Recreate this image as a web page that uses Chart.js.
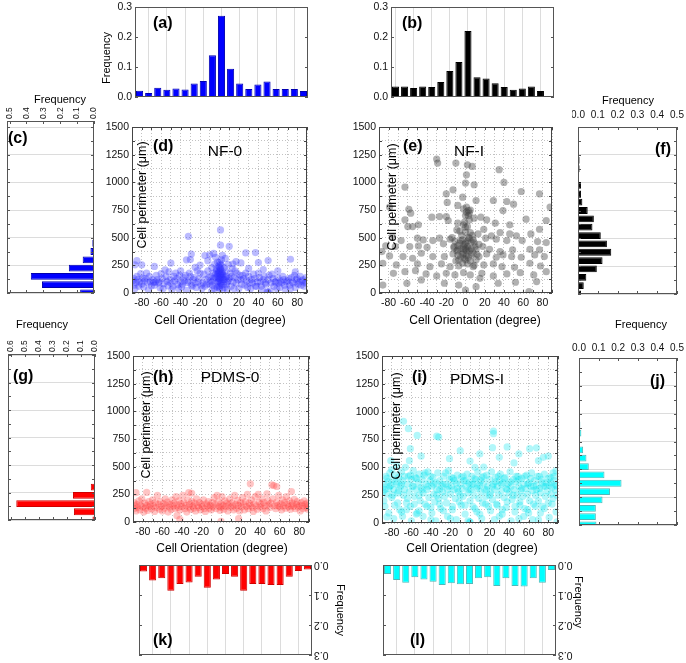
<!DOCTYPE html>
<html><head><meta charset="utf-8">
<script src="https://cdn.jsdelivr.net/npm/chart.js@4.4.1/dist/chart.umd.min.js"></script>
<style>
html,body{margin:0;padding:0;background:#fff;}
body{width:686px;height:663px;position:relative;overflow:hidden;}
canvas{position:absolute;}
</style></head><body>
<script>
// ---------------- DATA ----------------
const ORIENT_BINS = [-90,-80,-70,-60,-50,-40,-30,-20,-10,0,10,20,30,40,50,60,70,80,90];
const B_BINS = [-80,-70,-60,-50,-40,-30,-20,-10,0,10,20,30,40,50,60,70,80,90];
const ORIENT_TICKS = [-80,-60,-40,-20,0,20,40,60,80];
const ORIENT_GRID = [-90,-80,-70,-60,-50,-40,-30,-20,-10,0,10,20,30,40,50,60,70,80,90];
const PERIM_BINS = [0,75,150,225,300,375,450,525,600,675,750,825,900,975,1050,1125,1200,1275,1350,1425,1500];
const PERIM_TICKS = [0,250,500,750,1000,1250,1500];
const PERIM_GRID = [0,125,250,375,500,625,750,875,1000,1125,1250,1375,1500];
const FREQ_TICKS_03 = [0,0.1,0.2,0.3];
const FREQ_TICKS_05 = [0,0.1,0.2,0.3,0.4,0.5];
const FREQ_TICKS_06 = [0,0.1,0.2,0.3,0.4,0.5,0.6];

// orientation histograms
const A_FREQ = [0.021,0.013,0.031,0.024,0.028,0.025,0.045,0.053,0.139,0.271,0.094,0.045,0.027,0.042,0.052,0.027,0.027,0.027,0.020];
const B_FREQ = [0.035,0.035,0.030,0.035,0.033,0.050,0.087,0.117,0.220,0.066,0.062,0.046,0.033,0.024,0.028,0.035,0.020,0];
const K_FREQ = [0.022,0.052,0.044,0.086,0.063,0.058,0.039,0.076,0.048,0.030,0.039,0.086,0.063,0.063,0.067,0.067,0.039,0.020,0.015];
const L_FREQ = [0.030,0.050,0.059,0.041,0.048,0.056,0.067,0.061,0.064,0.063,0.044,0.041,0.070,0.044,0.070,0.072,0.044,0.059,0.017];
// perimeter histograms
const C_FREQ = [0.082,0.308,0.374,0.149,0.067,0.021,0.010,0,0,0,0,0,0,0,0,0,0,0,0,0,0];
const F_FREQ = [0.015,0.029,0.042,0.095,0.124,0.168,0.146,0.115,0.073,0.080,0.049,0.022,0.015,0.015,0.003,0.008,0.008,0,0,0,0];
const G_FREQ = [0.018,0.150,0.561,0.157,0.030,0.005,0,0,0,0,0,0,0,0,0,0,0,0,0,0,0];
const J_FREQ = [0.089,0.086,0.086,0.120,0.158,0.217,0.130,0.050,0.038,0.021,0.003,0.012,0.007,0,0,0,0,0,0,0,0];

// scatter: [orientation, perimeter]
const NF0_PTS = [[1,570],[-32,512],[1,432],[10,422],[37,365],[27,362],[-6,358],[-15,338],[-10,345],[-29,352],[-30,302],[-34,300],[3,340],[-4,322],[6,312],[-50,270],[-85,292],[-87,255],[-80,255],[-67,240],[-56,210],[73,305],[50,293],[17,284],[14,262],[40,275],[22,272],[-12,292],[-20,252],[-25,232],[30,222],[45,212],[-40,200],[60,200],[78,190],
[-89,110],[-88,70],[-88,130],[-87,40],[-86,95],[-85,150],[-84,120],[-83,60],[-82,100],[-81,175],[-80,80],[-79,135],[-78,55],[-77,110],[-76,130],[-75,180],[-74,95],[-73,30],[-72,150],[-71,100],[-70,65],[-69,120],[-68,95],[-67,70],[-66,100],[-65,160],[-64,120],[-63,90],[-62,100],[-61,45],[-60,175],[-59,130],[-58,40],[-57,85],[-55,150],[-54,105],[-53,65],[-52,190],[-51,120],[-50,90],[-49,30],[-48,60],[-47,150],[-46,110],[-45,180],[-44,130],[-43,75],[-42,40],[-41,160],[-40,100],[-39,55],[-38,80],[-37,140],[-36,110],[-35,160],[-34,25],[-33,95],[-32,110],[-31,180],[-30,150],[-29,70],[-28,60],[-27,120],[-26,140],[-25,90],[-24,50],[-23,200],[-22,100],[-21,130],[-20,180],[-19,70],[-18,40],[-17,90],[-16,170],[-15,60],[-14,120],[-13,80],[-12,200],[-11,140],[-10,80],[-9,150],[-9,100],[-8,230],[-8,20],[-7,110],[-7,70],[-6,180],[-6,130],[-5,260],[-5,40],[-4,140],[-4,170],[-3,60],[-3,200],[-3,220],[-2,100],[-2,170],[-2,150],[-2,50],[-2,280],[-1,240],[-1,130],[-1,110],[-1,180],[-1,200],[0,190],[0,150],[0,280],[0,60],[0,130],[0,40],[0,100],[0,230],[1,120],[1,220],[1,170],[1,90],[1,160],[1,210],[1,260],[2,100],[2,300],[2,250],[2,180],[2,140],[2,70],[3,140],[3,190],[3,170],[3,30],[4,80],[4,160],[4,120],[5,230],[5,120],[5,50],[6,200],[6,140],[7,150],[7,80],[8,100],[8,30],[9,260],[9,110],[10,130],[11,180],[12,60],[12,150],[13,220],[14,100],[15,140],[15,40],[16,200],[17,90],[18,180],[19,120],[20,40],[21,160],[22,120],[23,80],[24,160],[25,130],[26,70],[27,180],[28,110],[29,50],[30,150],[31,90],[32,40],[33,120],[34,90],[35,170],[36,130],[37,60],[38,60],[39,100],[40,180],[41,140],[42,100],[43,60],[44,30],[45,120],[46,150],[47,90],[48,80],[49,10],[50,120],[50,5],[51,160],[52,20],[53,90],[54,170],[55,130],[56,60],[57,100],[58,100],[59,40],[60,140],[61,90],[62,50],[63,110],[64,90],[65,150],[66,120],[67,70],[68,30],[69,100],[70,110],[71,130],[72,70],[73,40],[74,140],[75,100],[76,90],[77,160],[78,50],[79,120],[80,130],[81,80],[82,100],[83,150],[84,70],[85,110],[86,120],[87,60],[88,90],[89,140],[89,100]];

const NFI_PTS = [[-30,1210],[-29,1174],[-10,1174],[7,1144],[2,1159],[35,1114],[1,1068],[0,993],[9,978],[-63,957],[-13,932],[40,999],[58,917],[77,896],[-3,866],[-20,896],[29,836],[11,836],[50,803],[-8,791],[-19,818],[88,776],[1,776],[-59,757],[-57,721],[-79,776],[3,745],[4,721],[43,827],[-20,691],[-27,691],[-35,685],[39,745],[63,667],[9,676],[16,685],[22,661],[31,631],[-63,661],[-49,616],[-18,655],[-8,631],[-2,616],[0,594],[-60,600],[-55,600],[46,616],[84,655],[-9,570],[5,546],[13,534],[19,576],[27,516],[36,546],[77,576],[68,534],[53,516],[46,534],[-50,495],[-44,480],[-34,474],[-27,495],[-76,510],[-67,474],[-16,486],[-5,474],[4,495],[9,456],[21,495],[32,486],[43,474],[59,474],[75,465],[84,456],[-83,425],[-73,420],[-58,420],[-49,425],[-40,413],[-23,444],[-12,420],[-8,389],[-2,395],[3,404],[11,395],[18,420],[25,395],[36,374],[49,389],[67,395],[77,389],[-87,374],[-79,335],[-65,329],[-55,314],[-46,359],[-34,329],[-22,329],[-13,353],[-5,329],[-1,314],[6,344],[14,329],[22,353],[32,323],[39,344],[48,329],[58,323],[72,344],[82,329],[-86,269],[-72,254],[-50,263],[-37,238],[-25,263],[-16,238],[-7,244],[2,263],[8,238],[19,254],[29,263],[38,238],[51,232],[67,269],[78,244],[-75,178],[-63,193],[-52,202],[-41,172],[-30,154],[-20,178],[-11,163],[-2,184],[5,163],[17,178],[29,154],[43,172],[57,184],[71,163],[84,193],[-22,88],[-7,72],[0,27],[11,57],[34,88],[52,97],[66,12],[-86,72],[-61,88],[-46,118],[15,133],[74,103],
[-3,480],[0,450],[2,420],[-5,400],[4,380],[-2,360],[1,340],[-8,430],[6,460],[3,500],[-4,520],[0,550],[2,600],[-1,640],[3,700],[1,730],[5,750],[-2,760],[0,700],[4,660],[-6,560],[7,520],[8,480],[-9,380],[10,420],[-11,470],[12,350],[-7,300],[5,290],[-3,270],[9,250],[-12,410],[14,440],[-14,500],[0,400],[1,380],[-1,440],[2,470],[-2,420],[6,400],[-6,450],[8,360],[-8,340],[3,320],[-3,350],[0,300],[11,300],[-10,290]];

const PDMS0_PTS = [[-89,120],[-89,175],[-88,145],[-87,265],[-87,100],[-86,160],[-85,130],[-84,190],[-83,110],[-82,150],[-81,210],[-80,135],[-79,90],[-78,170],[-77,125],[-76,267],[-76,150],[-75,105],[-74,185],[-73,140],[-72,160],[-71,120],[-70,200],[-69,145],[-68,95],[-67,175],[-66,130],[-65,240],[-64,160],[-63,115],[-62,185],[-61,140],[-60,100],[-59,165],[-58,125],[-57,210],[-56,150],[-55,180],[-54,90],[-53,135],[-52,160],[-51,115],[-50,200],[-49,145],[-48,170],[-47,120],[-46,230],[-45,57],[-45,155],[-44,130],[-43,190],[-42,25],[-42,110],[-41,165],[-40,140],[-39,240],[-38,175],[-37,120],[-36,150],[-35,90],[-34,200],[-33,265],[-33,135],[-32,160],[-31,115],[-30,260],[-30,185],[-29,145],[-28,125],[-27,170],[-26,100],[-25,210],[-24,150],[-23,130],[-22,175],[-21,110],[-20,160],[-19,140],[-18,200],[-17,120],[-16,95],[-15,165],[-14,145],[-13,185],[-12,125],[-11,150],[-10,110],[-9,175],[-8,135],[-7,220],[-6,160],[-5,120],[-4,240],[-3,180],[-2,140],[-1,105],[0,5],[0,165],[0,130],[1,230],[2,150],[3,115],[4,190],[5,140],[6,170],[7,100],[8,155],[9,210],[10,130],[11,175],[12,145],[13,110],[14,240],[15,160],[16,125],[17,195],[18,30],[18,150],[19,100],[20,175],[21,135],[22,220],[23,160],[24,110],[25,185],[26,140],[27,250],[28,120],[29,170],[30,345],[30,150],[31,200],[32,130],[33,95],[34,165],[35,230],[36,145],[37,115],[38,250],[39,180],[40,135],[41,160],[42,210],[43,120],[44,175],[45,145],[46,100],[47,255],[48,190],[49,155],[50,130],[51,170],[52,336],[53,210],[54,330],[55,145],[56,120],[57,321],[57,180],[58,150],[59,240],[60,135],[61,165],[62,110],[63,200],[64,145],[65,175],[66,125],[67,230],[68,160],[69,135],[70,190],[71,115],[72,275],[72,150],[73,170],[74,140],[75,205],[76,120],[77,160],[78,185],[79,135],[80,150],[81,100],[82,175],[83,145],[84,120],[85,190],[86,160],[87,130],[88,170],[89,115],[89,145]];

const PDMSI_PTS = [[-68,913],[-63,847],[-54,787],[-32,772],[-34,780],[24,826],[24,802],[38,683],[61,668],[68,675],[23,677],[-61,668],[-21,578],[0,557],[14,503],[-80,480],[-75,520],[-62,560],[5,500],[30,590],[45,540],[75,590],[80,600],[88,470],[85,450],
[-85,55],[0,10],[0,5],[89,10],[-40,30],[-20,40],[10,80],[30,60],[50,40],[70,30],[-70,100],[-55,80],[60,90],
[-89,320],[-89,280],[-88,350],[-87,300],[-86,420],[-85,260],[-84,370],[-83,310],[-82,450],[-81,340],[-80,230],[-79,390],[-78,300],[-77,160],[-76,430],[-75,350],[-74,270],[-73,410],[-72,120],[-71,330],[-70,460],[-69,380],[-68,250],[-67,300],[-66,500],[-65,180],[-64,350],[-63,420],[-62,280],[-61,150],[-60,390],[-59,330],[-58,470],[-57,240],[-56,410],[-55,300],[-54,90],[-53,360],[-52,440],[-51,200],[-50,320],[-49,390],[-48,270],[-47,430],[-46,170],[-45,350],[-44,300],[-43,460],[-42,230],[-41,380],[-40,140],[-39,330],[-38,410],[-37,260],[-36,190],[-35,360],[-34,300],[-33,450],[-32,220],[-31,380],[-30,130],[-29,330],[-28,280],[-27,420],[-26,240],[-25,350],[-24,180],[-23,300],[-22,470],[-21,390],[-20,260],[-19,330],[-18,150],[-17,400],[-16,300],[-15,220],[-14,360],[-13,430],[-12,280],[-11,190],[-10,350],[-9,410],[-8,310],[-7,240],[-6,380],[-5,160],[-4,330],[-3,440],[-2,270],[-1,360],[0,200],[1,300],[2,420],[3,350],[4,250],[5,130],[6,390],[7,310],[8,460],[9,220],[10,340],[11,280],[12,410],[13,180],[14,360],[15,300],[16,240],[17,430],[18,330],[19,150],[20,390],[21,270],[22,460],[23,210],[24,350],[25,300],[26,410],[27,170],[28,330],[29,250],[30,380],[31,440],[32,290],[33,120],[34,360],[35,230],[36,410],[37,310],[38,190],[39,350],[40,270],[41,460],[42,330],[43,210],[44,390],[45,300],[46,150],[47,370],[48,250],[49,420],[50,330],[51,190],[52,290],[53,400],[54,240],[55,350],[56,130],[57,310],[58,430],[59,260],[60,360],[61,200],[62,330],[63,450],[64,290],[65,170],[66,380],[67,250],[68,340],[69,420],[70,200],[71,310],[72,270],[73,390],[74,150],[75,330],[76,440],[77,240],[78,360],[79,290],[80,180],[81,340],[82,410],[83,260],[84,320],[85,220],[86,380],[87,300],[88,340],[89,250],
[-88,200],[-85,400],[-82,330],[-79,250],[-76,370],[-73,290],[-70,350],[-67,420],[-64,220],[-61,430],[-58,330],[-55,400],[-52,250],[-49,300],[-46,450],[-43,330],[-40,420],[-37,350],[-34,250],[-31,300],[-28,350],[-25,450],[-22,330],[-19,410],[-16,380],[-13,310],[-10,250],[-7,420],[-4,380],[-1,300],[2,350],[5,400],[8,330],[11,380],[14,420],[17,300],[20,250],[23,330],[26,370],[29,420],[32,350],[35,400],[38,300],[41,370],[44,250],[47,420],[50,390],[53,310],[56,420],[59,350],[62,400],[65,330],[68,300],[71,420],[74,360],[77,330],[80,400],[83,360],[86,420],[89,330],
[-87,150],[-83,90],[-78,40],[-74,180],[-69,60],[-65,120],[-60,20],[-57,170],[-52,110],[-48,60],[-44,150],[-39,90],[-35,20],[-31,170],[-27,110],[-23,60],[-18,120],[-14,30],[-9,160],[-5,80],[-2,20],[3,150],[7,100],[12,40],[16,170],[21,110],[25,30],[28,160],[33,80],[37,140],[42,20],[46,100],[51,160],[55,60],[59,120],[64,30],[67,150],[72,90],[76,130],[81,50],[84,170],[88,100],[-81,560],[-50,600],[10,620],[50,620],[-10,650],[70,560]];

// ---------------- HELPERS ----------------
const FONT = "'Liberation Sans', Arial, Helvetica, sans-serif";
const TICKFONT = {family: FONT, size: 10.5};
const f1 = v => v.toFixed(1);

function decoPlugin(spec, ox, oy) {
  return { id: 'deco', afterDraw(chart) {
    const ctx = chart.ctx, a = chart.chartArea;
    ctx.save();
    ctx.strokeStyle = spec.frame || '#444'; ctx.lineWidth = 1;
    (spec.ticks || []).forEach(tk => {
      const sc = chart.scales[tk.axis];
      tk.vals.forEach(v => {
        const p = Math.round(sc.getPixelForValue(v)) + 0.5;
        ctx.beginPath();
        if (sc.isHorizontal()) { ctx.moveTo(p, a.bottom); ctx.lineTo(p, a.bottom - tk.len); ctx.moveTo(p, a.top); ctx.lineTo(p, a.top + tk.len); }
        else { ctx.moveTo(a.left, p); ctx.lineTo(a.left + tk.len, p); ctx.moveTo(a.right, p); ctx.lineTo(a.right - tk.len, p); }
        ctx.stroke();
      });
    });
    ctx.strokeRect(a.left + 0.5, a.top + 0.5, a.right - a.left - 1, a.bottom - a.top - 1);
    (spec.labels || []).forEach(L => {
      const sc = chart.scales[L.axis];
      ctx.font = L.font || ('10.5px ' + FONT); ctx.fillStyle = '#111';
      L.vals.forEach(v => {
        const p = sc.getPixelForValue(v);
        ctx.save();
        if (sc.isHorizontal()) ctx.translate(p, L.side === 'top' ? a.top - L.off : a.bottom + L.off);
        else ctx.translate(L.side === 'left' ? a.left - L.off : a.right + L.off, p);
        ctx.rotate(L.rot); ctx.textAlign = L.align; ctx.textBaseline = 'middle';
        ctx.fillText(L.fmt(v), 0, 0);
        ctx.restore();
      });
    });
    (spec.texts || []).forEach(T => {
      ctx.save(); ctx.translate(T.x - ox, T.y - oy); if (T.r) ctx.rotate(T.r);
      ctx.font = T.f; ctx.fillStyle = T.c || '#000'; ctx.textAlign = T.a || 'center'; ctx.textBaseline = 'middle';
      ctx.fillText(T.t, 0, 0); ctx.restore();
    });
    ctx.restore();
  }};
}

// box: plot area [l,t,r,b] in page px; m: [left, top, right, bottom] margins
function makeChart(box, m, cfg, spec) {
  const c = document.createElement('canvas');
  const W = box[2] - box[0] + m[0] + m[2], H = box[3] - box[1] + m[1] + m[3];
  const ox = box[0] - m[0], oy = box[1] - m[1];
  c.width = W; c.height = H;
  c.style.left = ox + 'px'; c.style.top = oy + 'px'; c.style.width = W + 'px'; c.style.height = H + 'px';
  document.body.appendChild(c);
  const pad = {left: m[0], top: m[1], right: m[2], bottom: m[3]};
  const scales = cfg.options.scales;
  for (const k in scales) {
    const s = scales[k];
    const pos = s.position || (k === 'x' ? 'bottom' : 'left');
    s.position = pos;
    const size = pad[pos]; pad[pos] = 0;
    s.grid = Object.assign({}, s.grid, {drawTicks: false});
    s.afterFit = sc => {
      if (sc.isHorizontal()) sc.height = size; else sc.width = size;
      sc.paddingLeft = sc.paddingRight = sc.paddingTop = sc.paddingBottom = 0;
    };
  }
  Object.assign(cfg.options, {responsive: false, animation: false, devicePixelRatio: 1, layout: {padding: pad}});
  cfg.options.plugins = {legend: {display: false}, tooltip: {enabled: false}};
  cfg.plugins = [decoPlugin(spec, ox, oy)];
  return new Chart(c, cfg);
}

const TITLE = '12px ' + FONT, YTITLE = '12.5px ' + FONT, PANEL = 'bold 16px ' + FONT, NAME = '15.5px ' + FONT, FREQ = '11px ' + FONT;

// orientation histogram (vertical bars)
function orientBar(box, m, bins, vals, fill, border, opts) {
  const gridCol = ctx => {
    const v = bins[ctx.index];
    return (v % 20 === 0 && Math.abs(v) < 90) ? '#dcdcdc' : 'rgba(0,0,0,0)';
  };
  return makeChart(box, m, {
    type: 'bar',
    data: {labels: bins, datasets: [{data: vals, backgroundColor: fill, borderColor: border, borderWidth: 1, barPercentage: 0.78, categoryPercentage: 1}]},
    options: {scales: {
      x: {type: 'category', offset: true, grid: {offset: false, color: gridCol}, border: {display: false}, ticks: {display: false}},
      y: {type: 'linear', min: 0, max: 0.3, reverse: !!opts.reverse, position: opts.reverse ? 'right' : 'left',
          afterBuildTicks: s => { s.ticks = FREQ_TICKS_03.map(v => ({value: v})); },
          grid: {display: false}, border: {display: false},
          ticks: {display: !opts.reverse, padding: 3, font: TICKFONT, color: '#111', callback: v => f1(v)}}
    }}
  }, {frame: '#555', ticks: [{axis: 'y', vals: FREQ_TICKS_03, len: 3}], texts: opts.texts, labels: opts.customLabels});
}

// perimeter histogram (horizontal bars)
function perimBar(box, m, vals, fill, border, opts) {
  const ticksArr = opts.xticks;
  return makeChart(box, m, {
    type: 'bar',
    data: {labels: PERIM_BINS, datasets: [{data: vals, backgroundColor: fill, borderColor: border, borderWidth: 1, barPercentage: 0.82, categoryPercentage: 1}]},
    options: {indexAxis: 'y', scales: {
      y: {type: 'linear', min: 0, max: opts.ymax, offset: false,
          afterBuildTicks: s => { s.ticks = PERIM_TICKS.map(v => ({value: v})); },
          grid: {color: '#dcdcdc', offset: false}, border: {display: false}, ticks: {display: false}},
      x: {type: 'linear', position: 'top', min: 0, max: opts.xmax, reverse: !!opts.reverse,
          afterBuildTicks: s => { s.ticks = ticksArr.map(v => ({value: v})); },
          grid: {display: false}, border: {display: false},
          ticks: {display: !opts.rotated, padding: opts.pad || 4, autoSkip: false, maxRotation: 0, font: {family: FONT, size: 10}, color: '#111', callback: v => f1(v)}}
    }}
  }, {frame: '#555', ticks: [{axis: 'y', vals: PERIM_GRID, len: 3}, {axis: 'x', vals: ticksArr, len: 3}],
      texts: opts.texts,
      labels: opts.rotated ? [{axis: 'x', vals: ticksArr, side: 'top', off: 2, rot: -Math.PI / 2, align: 'left', fmt: f1, font: '8.5px ' + FONT}] : []});
}

// scatter
function scatter(box, m, pts, color, texts) {
  return makeChart(box, m, {
    type: 'scatter',
    data: {datasets: [{data: pts.map(p => ({x: p[0], y: p[1]})), pointRadius: 3.6, pointBorderWidth: 0, backgroundColor: color, pointBackgroundColor: color}]},
    options: {scales: {
      x: {type: 'linear', min: -90, max: 90,
          afterBuildTicks: s => { s.ticks = ORIENT_GRID.map(v => ({value: v})); },
          grid: {color: '#c2c2c2'}, border: {display: false, dash: [1, 2]},
          ticks: {autoSkip: false, maxRotation: 0, padding: 4, font: TICKFONT, color: '#111', callback: v => (ORIENT_TICKS.includes(v) ? String(v) : '')}},
      y: {type: 'linear', min: 0, max: 1500,
          afterBuildTicks: s => { s.ticks = PERIM_GRID.map(v => ({value: v})); },
          grid: {color: '#c2c2c2'}, border: {display: false, dash: [1, 2]},
          ticks: {autoSkip: false, padding: 3, font: TICKFONT, color: '#111', callback: v => (PERIM_TICKS.includes(v) ? String(v) : '')}}
    }}
  }, {frame: '#444', ticks: [{axis: 'x', vals: ORIENT_GRID, len: 3}, {axis: 'y', vals: PERIM_GRID, len: 3}], texts: texts});
}

const ROT = -Math.PI / 2;
// ---------------- PANELS ----------------
orientBar([135, 7, 308, 97], [42, 7, 5, 8], ORIENT_BINS, A_FREQ, '#0000ff', '#0000b0', {texts: [
  {t: 'Frequency', x: 107, y: 58, f: FREQ, r: ROT},
  {t: '(a)', x: 153, y: 24, f: PANEL, a: 'left'}]});
orientBar([391, 7, 554, 97], [30, 7, 5, 8], B_BINS, B_FREQ, '#000000', '#000000', {texts: [
  {t: '(b)', x: 402, y: 24, f: PANEL, a: 'left'}]});

perimBar([7, 121, 94, 293], [7, 30, 8, 5], C_FREQ, '#0000ff', '#0000b0', {ymax: 1555, xmax: 0.515, reverse: true, rotated: true, xticks: FREQ_TICKS_05, texts: [
  {t: 'Frequency', x: 60, y: 100, f: FREQ},
  {t: '(c)', x: 8, y: 139, f: PANEL, a: 'left'}]});

scatter([132, 127, 307, 293], [40, 8, 8, 40], NF0_PTS, 'rgba(50,50,255,0.33)', [
  {t: '(d)', x: 153, y: 147, f: PANEL, a: 'left'},
  {t: 'NF-0', x: 225, y: 152, f: NAME},
  {t: 'Cell perimeter (\u03bcm)', x: 143, y: 195, f: YTITLE, r: ROT},
  {t: 'Cell Orientation (degree)', x: 220, y: 321, f: TITLE}]);
scatter([379, 127, 552, 293], [40, 8, 8, 40], NFI_PTS, 'rgba(70,70,70,0.42)', [
  {t: '(e)', x: 403, y: 147, f: PANEL, a: 'left'},
  {t: 'NF-I', x: 469, y: 152, f: NAME},
  {t: 'Cell perimeter (\u03bcm)', x: 393, y: 197, f: YTITLE, r: ROT},
  {t: 'Cell Orientation (degree)', x: 475, y: 321, f: TITLE}]);

perimBar([578, 127, 677, 294], [6, 36, 9, 5], F_FREQ, '#000000', '#000000', {ymax: 1500, xmax: 0.5, xticks: FREQ_TICKS_05, pad: 6, texts: [
  {t: 'Frequency', x: 628, y: 101, f: FREQ},
  {t: '(f)', x: 655, y: 150, f: PANEL, a: 'left'}]});

perimBar([8, 354, 95, 520], [8, 40, 8, 5], G_FREQ, '#ff0000', '#d00000', {ymax: 1510, xmax: 0.62, reverse: true, rotated: true, xticks: FREQ_TICKS_06, texts: [
  {t: 'Frequency', x: 42, y: 325, f: FREQ},
  {t: '(g)', x: 13, y: 377, f: PANEL, a: 'left'}]});

scatter([133, 356, 309, 522], [40, 8, 8, 40], PDMS0_PTS, 'rgba(255,70,70,0.32)', [
  {t: '(h)', x: 153, y: 378, f: PANEL, a: 'left'},
  {t: 'PDMS-0', x: 230, y: 378, f: NAME},
  {t: 'Cell perimeter (\u03bcm)', x: 147, y: 425, f: YTITLE, r: ROT},
  {t: 'Cell Orientation (degree)', x: 222, y: 549, f: TITLE}]);
scatter([382, 356, 558, 523], [40, 8, 8, 40], PDMSI_PTS, 'rgba(0,230,240,0.30)', [
  {t: '(i)', x: 412, y: 378, f: PANEL, a: 'left'},
  {t: 'PDMS-I', x: 477, y: 380, f: NAME},
  {t: 'Cell perimeter (\u03bcm)', x: 397, y: 426, f: YTITLE, r: ROT},
  {t: 'Cell Orientation (degree)', x: 472, y: 549, f: TITLE}]);

perimBar([579, 358, 677, 525], [7, 42, 9, 5], J_FREQ, '#00ffff', '#50b8b8', {ymax: 1500, xmax: 0.5, xticks: FREQ_TICKS_05, pad: 4, texts: [
  {t: 'Frequency', x: 641, y: 325, f: FREQ},
  {t: '(j)', x: 650, y: 382, f: PANEL, a: 'left'}]});

const flipLabels = [{axis: 'y', vals: FREQ_TICKS_03, side: 'right', off: 2, rot: Math.PI, align: 'right', fmt: f1}];
orientBar([139, 565, 312, 655], [5, 5, 45, 5], ORIENT_BINS, K_FREQ, '#ff0000', '#d00000', {reverse: true, customLabels: flipLabels, texts: [
  {t: '(k)', x: 153, y: 641, f: PANEL, a: 'left'},
  {t: 'Frequency', x: 340, y: 610, f: FREQ, r: Math.PI / 2}]});
orientBar([383, 565, 556, 655], [5, 5, 40, 5], ORIENT_BINS, L_FREQ, '#00ffff', '#50b8b8', {reverse: true, customLabels: flipLabels, texts: [
  {t: '(l)', x: 410, y: 641, f: PANEL, a: 'left'},
  {t: 'Frequency', x: 578, y: 602, f: FREQ, r: Math.PI / 2}]});
</script>
</body></html>
